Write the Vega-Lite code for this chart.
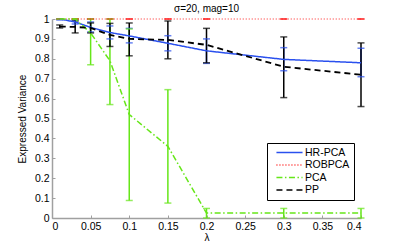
{
  "$schema": "https://vega.github.io/schema/vega-lite/v6.json",
  "width": 309,
  "height": 199,
  "autosize": {"type": "none"},
  "padding": {"left": 52, "top": 19, "right": 38, "bottom": 27},
  "title": {"text": "σ=20, mag=10", "fontSize": 10, "fontWeight": "normal", "font": "Liberation Sans", "offset": 0, "color": "#000"},
  "config": {
    "view": {"stroke": null},
    "font": "Liberation Sans",
    "axis": {
      "domainColor": "#a0a0a0", "domainWidth": 1.5, "tickColor": "#a0a0a0", "tickSize": -3, "tickWidth": 1,
      "labelFontSize": 10.5, "labelColor": "#000", "titleFontSize": 10, "titleFontWeight": "normal", "titleColor": "#000",
      "grid": false, "labelPadding": 6, "labelFont": "Liberation Sans", "titleFont": "Liberation Sans", "labelOverlap": false
    }
  },
  "data": {"values": [
    {"series": "HR-PCA", "x": 0.01, "y": 1.0, "lo": 0.995, "hi": 1.0},
    {"series": "HR-PCA", "x": 0.03, "y": 0.985, "lo": 0.975, "hi": 0.995},
    {"series": "HR-PCA", "x": 0.05, "y": 0.958, "lo": 0.935, "hi": 0.985},
    {"series": "HR-PCA", "x": 0.075, "y": 0.932, "lo": 0.9, "hi": 0.965},
    {"series": "HR-PCA", "x": 0.1, "y": 0.915, "lo": 0.88, "hi": 0.953},
    {"series": "HR-PCA", "x": 0.15, "y": 0.878, "lo": 0.84, "hi": 0.916},
    {"series": "HR-PCA", "x": 0.2, "y": 0.84, "lo": 0.777, "hi": 0.9},
    {"series": "HR-PCA", "x": 0.3, "y": 0.797, "lo": 0.74, "hi": 0.856},
    {"series": "HR-PCA", "x": 0.4, "y": 0.78, "lo": 0.71, "hi": 0.853},
    {"series": "ROBPCA", "x": 0.01, "y": 1.0, "lo": 1.0, "hi": 1.0},
    {"series": "ROBPCA", "x": 0.03, "y": 1.0, "lo": 1.0, "hi": 1.0},
    {"series": "ROBPCA", "x": 0.05, "y": 1.0, "lo": 1.0, "hi": 1.0},
    {"series": "ROBPCA", "x": 0.075, "y": 1.0, "lo": 1.0, "hi": 1.0},
    {"series": "ROBPCA", "x": 0.1, "y": 1.0, "lo": 1.0, "hi": 1.0},
    {"series": "ROBPCA", "x": 0.15, "y": 1.0, "lo": 1.0, "hi": 1.0},
    {"series": "ROBPCA", "x": 0.2, "y": 1.0, "lo": 1.0, "hi": 1.0},
    {"series": "ROBPCA", "x": 0.3, "y": 1.0, "lo": 1.0, "hi": 1.0},
    {"series": "ROBPCA", "x": 0.4, "y": 1.0, "lo": 1.0, "hi": 1.0},
    {"series": "PCA", "x": 0.01, "y": 1.0, "lo": 1.0, "hi": 1.0},
    {"series": "PCA", "x": 0.03, "y": 1.0, "lo": 1.0, "hi": 1.0},
    {"series": "PCA", "x": 0.05, "y": 0.93, "lo": 0.77, "hi": 1.0},
    {"series": "PCA", "x": 0.075, "y": 0.79, "lo": 0.57, "hi": 1.0},
    {"series": "PCA", "x": 0.1, "y": 0.52, "lo": 0.088, "hi": 0.95},
    {"series": "PCA", "x": 0.15, "y": 0.36, "lo": 0.075, "hi": 0.645},
    {"series": "PCA", "x": 0.2, "y": 0.025, "lo": 0.0, "hi": 0.048},
    {"series": "PCA", "x": 0.3, "y": 0.025, "lo": 0.0, "hi": 0.048},
    {"series": "PCA", "x": 0.4, "y": 0.025, "lo": 0.0, "hi": 0.048},
    {"series": "PP", "x": 0.01, "y": 0.962, "lo": 0.955, "hi": 0.97},
    {"series": "PP", "x": 0.03, "y": 0.96, "lo": 0.93, "hi": 0.99},
    {"series": "PP", "x": 0.05, "y": 0.955, "lo": 0.93, "hi": 0.98},
    {"series": "PP", "x": 0.075, "y": 0.92, "lo": 0.862, "hi": 0.978},
    {"series": "PP", "x": 0.1, "y": 0.9, "lo": 0.815, "hi": 0.98},
    {"series": "PP", "x": 0.15, "y": 0.895, "lo": 0.8, "hi": 0.99},
    {"series": "PP", "x": 0.2, "y": 0.87, "lo": 0.78, "hi": 0.953},
    {"series": "PP", "x": 0.3, "y": 0.76, "lo": 0.605, "hi": 0.91},
    {"series": "PP", "x": 0.4, "y": 0.72, "lo": 0.56, "hi": 0.88}
  ]},
  "encoding": {
    "x": {"field": "x", "type": "quantitative", "scale": {"domain": [0, 0.4], "nice": false, "zero": false},
      "axis": {"title": "λ", "values": [0, 0.05, 0.1, 0.15, 0.2, 0.25, 0.3, 0.35, 0.4], "format": "~g", "titlePadding": 1}},
    "color": {"field": "series", "type": "nominal",
      "scale": {"domain": ["HR-PCA", "ROBPCA", "PCA", "PP"], "range": ["#2a50ee", "#ff2020", "#66e619", "#000000"]},
      "legend": {"title": null, "orient": "none", "legendX": 215, "legendY": 124, "symbolType": "M-2.9,0H2.9", "symbolSize": 81,
        "symbolOffset": 13, "symbolStrokeWidth": 1.5, "labelFontSize": 10.5, "labelFont": "Liberation Sans", "strokeColor": "#000", "fillColor": "#fff",
        "padding": 4, "rowPadding": 1.5, "labelOffset": 10, "symbolOpacity": 1}}
  },
  "layer": [
    {
      "mark": {"type": "rule", "strokeWidth": 1.5},
      "encoding": {
        "y": {"field": "lo", "type": "quantitative", "scale": {"domain": [0, 1], "nice": false},
          "axis": {"title": "Expressed Variance", "values": [0, 0.1, 0.2, 0.3, 0.4, 0.5, 0.6, 0.7, 0.8, 0.9, 1], "format": "~g", "titlePadding": 7}},
        "y2": {"field": "hi"}
      }
    },
    {
      "mark": {"type": "tick", "thickness": 1.5, "size": 7, "orient": "horizontal"},
      "encoding": {
        "y": {"field": "lo", "type": "quantitative", "axis": {"title": "Expressed Variance", "values": [0, 0.1, 0.2, 0.3, 0.4, 0.5, 0.6, 0.7, 0.8, 0.9, 1], "format": "~g", "titlePadding": 7}}
      }
    },
    {
      "mark": {"type": "tick", "thickness": 1.5, "size": 7, "orient": "horizontal"},
      "encoding": {
        "y": {"field": "hi", "type": "quantitative", "axis": {"title": "Expressed Variance", "values": [0, 0.1, 0.2, 0.3, 0.4, 0.5, 0.6, 0.7, 0.8, 0.9, 1], "format": "~g", "titlePadding": 7}}
      }
    },
    {
      "transform": [{"filter": "datum.series === 'HR-PCA'"}],
      "mark": {"type": "line", "strokeWidth": 1.5},
      "encoding": {
        "y": {"field": "y", "type": "quantitative", "axis": {"title": "Expressed Variance", "values": [0, 0.1, 0.2, 0.3, 0.4, 0.5, 0.6, 0.7, 0.8, 0.9, 1], "format": "~g", "titlePadding": 7}},
        "strokeDash": {"field": "series", "type": "nominal",
          "scale": {"domain": ["HR-PCA", "ROBPCA", "PCA", "PP"], "range": [[1, 0], [1, 2], [6, 2.5, 1.5, 2.5], [6, 4]]}}
      }
    },
    {
      "transform": [{"filter": "datum.series === 'ROBPCA'"}],
      "mark": {"type": "line", "strokeWidth": 1},
      "encoding": {
        "y": {"field": "y", "type": "quantitative", "axis": {"title": "Expressed Variance", "values": [0, 0.1, 0.2, 0.3, 0.4, 0.5, 0.6, 0.7, 0.8, 0.9, 1], "format": "~g", "titlePadding": 7}},
        "strokeDash": {"field": "series", "type": "nominal"}
      }
    },
    {
      "transform": [{"filter": "datum.series === 'PCA'"}],
      "mark": {"type": "line", "strokeWidth": 1.5},
      "encoding": {
        "y": {"field": "y", "type": "quantitative", "axis": {"title": "Expressed Variance", "values": [0, 0.1, 0.2, 0.3, 0.4, 0.5, 0.6, 0.7, 0.8, 0.9, 1], "format": "~g", "titlePadding": 7}},
        "strokeDash": {"field": "series", "type": "nominal"}
      }
    },
    {
      "transform": [{"filter": "datum.series === 'PP'"}],
      "mark": {"type": "line", "strokeWidth": 1.8},
      "encoding": {
        "y": {"field": "y", "type": "quantitative", "axis": {"title": "Expressed Variance", "values": [0, 0.1, 0.2, 0.3, 0.4, 0.5, 0.6, 0.7, 0.8, 0.9, 1], "format": "~g", "titlePadding": 7}},
        "strokeDash": {"field": "series", "type": "nominal"}
      }
    }
  ]
}
